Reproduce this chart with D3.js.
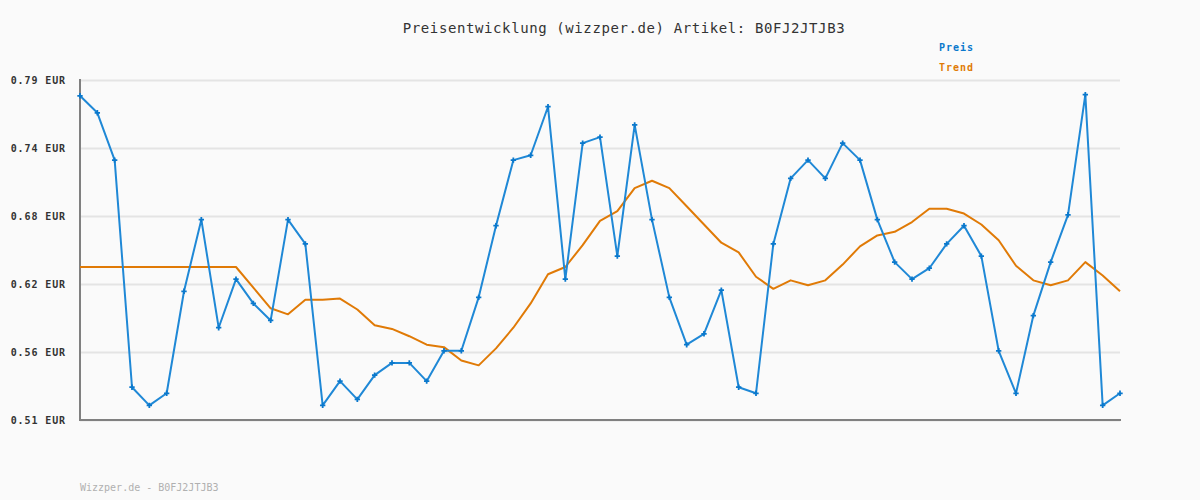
<!DOCTYPE html>
<html>
<head>
<meta charset="utf-8">
<script src="https://cdn.jsdelivr.net/npm/d3@7"></script>
<style>
  html, body { margin: 0; padding: 0; background: #fafafa; }
  svg { display: block; }
</style>
</head>
<body>
<svg id="chart" width="1200" height="500"></svg>
<script>
const titleText = "Preisentwicklung (wizzper.de) Artikel: B0FJ2JTJB3";
const footerText = "Wizzper.de - B0FJ2JTJB3";
const seriesNames = ["Preis", "Trend"];
const yMin = 0.51, yMax = 0.79;
const tickLabels = ["0.51 EUR", "0.56 EUR", "0.62 EUR", "0.68 EUR", "0.74 EUR", "0.79 EUR"];

const preis = [
  0.777, 0.763, 0.724, 0.537, 0.522, 0.532, 0.616, 0.675, 0.586, 0.626,
  0.606, 0.592, 0.675, 0.655, 0.522, 0.542, 0.527, 0.547, 0.557, 0.557,
  0.542, 0.567, 0.567, 0.611, 0.670, 0.724, 0.728, 0.768, 0.626, 0.738,
  0.743, 0.645, 0.753, 0.675, 0.611, 0.572, 0.581, 0.617, 0.537, 0.532,
  0.655, 0.709, 0.724, 0.709, 0.738, 0.724, 0.675, 0.640, 0.626, 0.635,
  0.655, 0.670, 0.645, 0.567, 0.532, 0.596, 0.640, 0.679, 0.778, 0.522,
  0.532
];
const trend = [
  0.636, 0.636, 0.636, 0.636, 0.636, 0.636, 0.636, 0.636, 0.636, 0.636,
  0.619, 0.602, 0.597, 0.609, 0.609, 0.610, 0.601, 0.588, 0.585, 0.579,
  0.572, 0.570, 0.559, 0.555, 0.569, 0.586, 0.606, 0.630, 0.636, 0.654,
  0.674, 0.682, 0.701, 0.707, 0.701, 0.686, 0.671, 0.656, 0.648, 0.628,
  0.618, 0.625, 0.621, 0.625, 0.638, 0.653, 0.662, 0.665, 0.673, 0.684,
  0.684, 0.680, 0.671, 0.658, 0.637, 0.625, 0.621, 0.625, 0.640, 0.629,
  0.616
];
const categories = preis.map((d, i) => i);

const blue = "#0a78cc", blueLine = "#1f88d6", orange = "#e07a06";
const svg = d3.select("#chart");
svg.append("rect").attr("width", 1200).attr("height", 500).attr("fill", "#fafafa");

const x = d3.scaleLinear().domain([0, categories.length - 1]).range([80, 1120]);
const y = d3.scaleLinear().domain([yMin, yMax]).range([420, 80]);
const tickVals = tickLabels.map((t, i) => yMin + i * (yMax - yMin) / (tickLabels.length - 1));

// grid
const grid = d3.axisLeft(y).tickValues(tickVals).tickSize(-1040).tickFormat("");
svg.append("g").attr("transform", "translate(80,0)").call(grid)
  .call(g => g.select(".domain").remove())
  .call(g => g.selectAll("line").attr("stroke", "#e4e4e4").attr("stroke-width", 2));

// y labels
const yAxis = d3.axisLeft(y).tickValues(tickVals).tickSize(0).tickPadding(0)
  .tickFormat((d, i) => tickLabels[i]);
svg.append("g").attr("transform", "translate(66,0)").call(yAxis)
  .call(g => g.select(".domain").remove())
  .call(g => g.selectAll("text")
    .attr("font-family", "DejaVu Sans Mono").attr("font-size", 10).attr("font-weight", "bold")
    .attr("letter-spacing", "0.9px").attr("fill", "#333").attr("dy", "0.35em"));

// axes lines
svg.append("line").attr("x1", 80).attr("x2", 80).attr("y1", 79).attr("y2", 421)
  .attr("stroke", "#808080").attr("stroke-width", 2);
svg.append("line").attr("x1", 79).attr("x2", 1121).attr("y1", 420).attr("y2", 420)
  .attr("stroke", "#808080").attr("stroke-width", 2);

const line = arr => d3.line().x((d, i) => x(categories[i])).y(d => y(d))(arr);

svg.append("path").attr("d", line(trend)).attr("fill", "none")
  .attr("stroke", orange).attr("stroke-width", 2).attr("stroke-linejoin", "round");
svg.append("path").attr("d", line(preis)).attr("fill", "none")
  .attr("stroke", blueLine).attr("stroke-width", 2).attr("stroke-linejoin", "round");

svg.append("g").selectAll("path").data(preis).join("path")
  .attr("transform", (d, i) => `translate(${x(categories[i])},${y(d)})`)
  .attr("d", d3.symbol().type(d3.symbolCross).size(16))
  .attr("fill", blue);

// title
svg.append("text").attr("x", 624).attr("y", 33).attr("text-anchor", "middle")
  .attr("font-family", "DejaVu Sans Mono").attr("font-size", 14).attr("letter-spacing", "0.6px")
  .attr("fill", "#333").text(titleText);

// legend
const legColors = [blue, orange];
svg.append("g").selectAll("text").data(seriesNames).join("text")
  .attr("x", 939).attr("y", (d, i) => 51 + i * 20)
  .attr("font-family", "DejaVu Sans Mono").attr("font-size", 10).attr("font-weight", "bold")
  .attr("letter-spacing", "1px").attr("fill", (d, i) => legColors[i]).text(d => d);

// footer
svg.append("text").attr("x", 80).attr("y", 491)
  .attr("font-family", "DejaVu Sans Mono").attr("font-size", 10)
  .attr("fill", "#b0b0b0").text(footerText);
</script>
</body>
</html>
